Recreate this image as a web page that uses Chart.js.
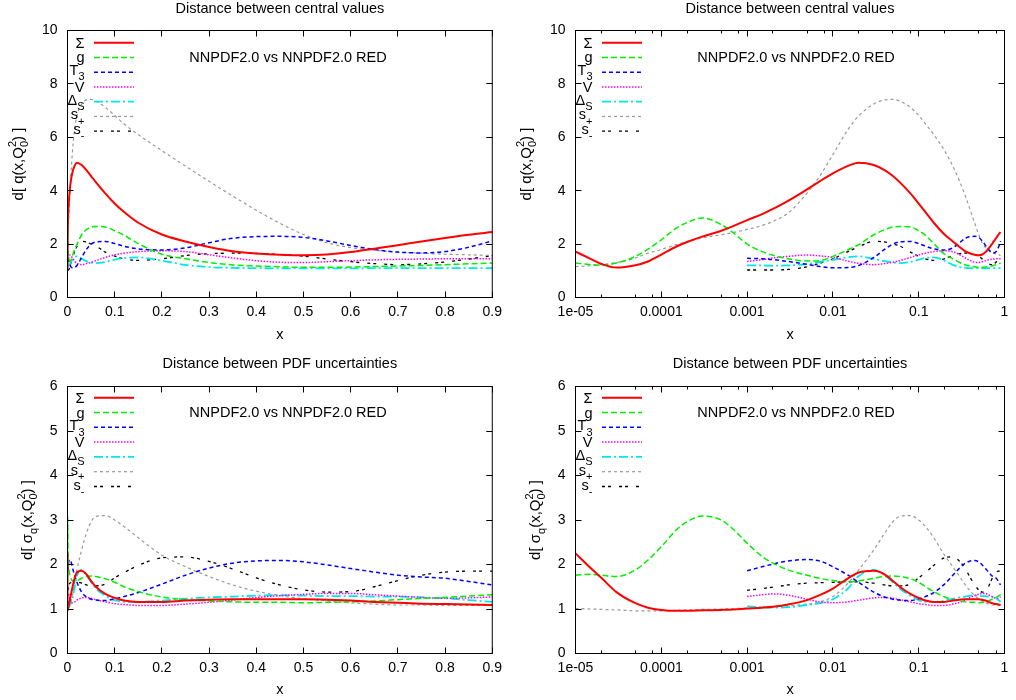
<!DOCTYPE html>
<html><head><meta charset="utf-8">
<script src="https://cdn.jsdelivr.net/npm/chart.js@4.4.1/dist/chart.umd.min.js"></script>
<style>
html,body{margin:0;padding:0;background:#fff;width:1016px;height:700px;overflow:hidden}
.p{position:absolute;width:508px;height:350px}
canvas{display:block}
</style></head><body>
<div class="p" style="left:0;top:0"><canvas id="c0" width="508" height="350"></canvas></div>
<div class="p" style="left:508px;top:0"><canvas id="c1" width="508" height="350"></canvas></div>
<div class="p" style="left:0;top:350px"><canvas id="c2" width="508" height="350"></canvas></div>
<div class="p" style="left:508px;top:350px"><canvas id="c3" width="508" height="350"></canvas></div>
<script>
// ---------- data ----------
const X = [1e-5,1.5e-5,2e-5,3e-5,5e-5,7e-5,1e-4,1.5e-4,2e-4,3e-4,5e-4,7e-4,1e-3,1.5e-3,2e-3,3e-3,5e-3,7e-3,0.01,0.015,0.02,0.03,0.04,0.05,0.06,0.08,0.1,0.12,0.15,0.2,0.25,0.3,0.35,0.4,0.45,0.5,0.55,0.6,0.65,0.7,0.75,0.8,0.85,0.9];
const SERIES = ['Σ','g','T3','V','ΔS','s+','s-'];

// distance between central values
const cvSigma  = [1.72,1.45,1.26,1.12,1.21,1.35,1.61,1.91,2.08,2.28,2.5,2.68,2.9,3.12,3.32,3.62,4.05,4.35,4.65,4.93,5.05,4.96,4.77,4.55,4.32,3.9,3.52,3.2,2.8,2.36,2.1,1.89,1.73,1.65,1.6,1.58,1.61,1.7,1.83,1.96,2.1,2.23,2.35,2.45];
const cvGluon  = [1.29,1.23,1.21,1.29,1.54,1.81,2.16,2.6,2.81,2.98,2.73,2.41,2.0,1.72,1.58,1.45,1.37,1.38,1.54,1.79,1.98,2.35,2.54,2.64,2.66,2.64,2.5,2.33,2.02,1.62,1.45,1.31,1.22,1.18,1.15,1.13,1.13,1.14,1.16,1.18,1.2,1.23,1.26,1.29];
const cvT3     = [1.47,1.45,1.42,1.35,1.24,1.16,1.11,1.12,1.2,1.5,1.8,2.0,2.08,2.1,2.02,1.92,1.82,1.78,1.86,2.05,2.22,2.28,2.29,2.25,2.12,1.95,1.8,1.7,1.67,1.72,1.88,2.12];
const cvV      = [1.35,1.42,1.48,1.54,1.59,1.56,1.5,1.36,1.28,1.23,1.27,1.32,1.38,1.5,1.6,1.66,1.72,1.75,1.72,1.6,1.48,1.38,1.32,1.31,1.34,1.38,1.41,1.43,1.44,1.45,1.45,1.45];
const cvDeltaS = [1.2,1.2,1.19,1.2,1.25,1.33,1.41,1.51,1.54,1.45,1.36,1.31,1.29,1.33,1.42,1.48,1.5,1.38,1.22,1.14,1.11,1.1,1.09,1.09,1.09,1.09,1.1,1.1,1.1,1.1,1.1,1.1];
const cvSplus  = [1.16,1.19,1.23,1.31,1.48,1.66,1.8,1.98,2.09,2.23,2.35,2.44,2.55,2.7,2.85,3.16,3.91,4.54,5.35,6.29,6.8,7.25,7.4,7.42,7.36,7.12,6.82,6.5,6.1,5.5,4.92,4.35,3.8,3.27,2.78,2.36,2.05,1.87,1.77,1.7,1.66,1.62,1.6,1.57];
const cvSminus = [1.03,1.03,1.03,1.05,1.15,1.28,1.45,1.72,1.9,2.1,2.08,2.0,1.93,1.7,1.55,1.45,1.39,1.45,1.57,1.64,1.66,1.65,1.61,1.55,1.44,1.34,1.27,1.23,1.26,1.33,1.44,1.57];

// distance between PDF uncertainties
const unSigma  = [2.25,1.92,1.7,1.38,1.13,1.03,0.98,0.96,0.96,0.97,0.98,0.99,1.01,1.03,1.05,1.1,1.2,1.31,1.46,1.69,1.82,1.86,1.78,1.63,1.5,1.34,1.25,1.19,1.16,1.16,1.19,1.21,1.22,1.22,1.22,1.22,1.21,1.19,1.16,1.14,1.12,1.11,1.1,1.09];
const unGluon  = [1.76,1.78,1.76,1.73,1.88,2.1,2.4,2.78,2.96,3.09,3.0,2.78,2.48,2.18,2.03,1.88,1.76,1.69,1.64,1.61,1.63,1.69,1.73,1.74,1.73,1.68,1.6,1.5,1.39,1.27,1.21,1.18,1.16,1.15,1.15,1.14,1.15,1.16,1.18,1.21,1.24,1.26,1.29,1.32];
const unT3     = [1.86,1.95,2.01,2.08,2.11,2.08,1.95,1.76,1.6,1.38,1.27,1.22,1.2,1.19,1.23,1.28,1.37,1.56,1.76,1.92,2.03,2.08,2.09,2.06,1.99,1.91,1.83,1.76,1.72,1.69,1.62,1.54];
const unV      = [1.28,1.32,1.34,1.31,1.22,1.16,1.14,1.16,1.2,1.25,1.26,1.24,1.21,1.16,1.12,1.1,1.08,1.08,1.11,1.15,1.2,1.26,1.3,1.33,1.35,1.35,1.32,1.29,1.26,1.24,1.25,1.27];
const unDeltaS = [1.06,1.04,1.03,1.04,1.09,1.13,1.22,1.46,1.74,1.88,1.76,1.6,1.46,1.3,1.2,1.16,1.16,1.19,1.23,1.26,1.28,1.3,1.31,1.3,1.29,1.29,1.28,1.28,1.26,1.24,1.2,1.16];
const unSplus  = [1.01,1.0,0.99,0.98,0.96,0.96,0.96,0.97,0.98,0.99,1.0,1.01,1.02,1.04,1.05,1.07,1.11,1.16,1.28,1.58,1.88,2.33,2.7,2.96,3.08,3.1,3.0,2.85,2.6,2.21,1.95,1.73,1.54,1.4,1.3,1.23,1.18,1.14,1.11,1.09,1.09,1.08,1.08,1.08];
const unSminus = [1.42,1.46,1.49,1.54,1.58,1.59,1.6,1.61,1.61,1.58,1.54,1.52,1.52,1.56,1.7,1.82,1.98,2.15,2.17,2.07,1.9,1.7,1.54,1.43,1.38,1.39,1.5,1.64,1.76,1.83,1.85,1.85];

// ticks
const LIN_TICKS = [0,0.1,0.2,0.3,0.4,0.5,0.6,0.7,0.8,0.9];
const LOG_TICKS = [1e-5,1e-4,1e-3,0.01,0.1,1];
const LOG_TICK_LABELS = ['1e-05','0.0001','0.001','0.01','0.1','1'];
const LOG_MINOR = [2,5,8];
const TOP_Y_TICKS = [0,2,4,6,8,10];
const BOT_Y_TICKS = [0,1,2,3,4,5,6];

// ---------- styling ----------
const FONT = '"Liberation Sans", Arial, Helvetica, sans-serif';
const STYLE = [
  {c:'#ff0000', w:2,   d:[]},
  {c:'#00ee00', w:1.5, d:[6,3]},
  {c:'#0000ff', w:1.5, d:[4,3]},
  {c:'#ff00ff', w:1.5, d:[1.5,1.5]},
  {c:'#00e8e8', w:1.8, d:[9,3,2,3]},
  {c:'#999999', w:1.2, d:[3,3]},
  {c:'#000000', w:1.3, d:[3,3,3,8]}
];
const LEGEND_RICH = [
  [{t:'Σ'}], [{t:'g'}], [{t:'T'},{t:'3',s:'sub'}], [{t:'V'}],
  [{t:'Δ'},{t:'S',s:'sub'}], [{t:'s'},{t:'+',s:'sub'}], [{t:'s'},{t:'-',s:'sub'}]
];
const pad = a => Array(X.length - a.length).fill(null).concat(a);

function drawRich(ctx, segs, x, y, align, size, small) {
  const base = size + 'px ' + FONT, sm = small + 'px ' + FONT;
  const items = []; let cx = 0, prevStart = 0;
  for (const s of segs) {
    ctx.font = s.s ? sm : base;
    const w = ctx.measureText(s.t).width;
    const start = s.over ? prevStart : cx;
    items.push({s, start});
    cx = s.over ? Math.max(cx, start + w) : start + w;
    prevStart = start;
  }
  const x0 = align === 'right' ? x - cx : align === 'center' ? x - cx / 2 : x;
  ctx.textAlign = 'left'; ctx.textBaseline = 'alphabetic';
  for (const it of items) {
    ctx.font = it.s.s ? sm : base;
    const dy = it.s.s === 'sub' ? size * 0.36 : it.s.s === 'sup' ? -size * 0.45 : 0;
    ctx.fillText(it.s.t, x0 + it.start, y + dy);
  }
}

const decor = {
  id: 'decor',
  afterDraw(chart) {
    const o = chart.options.plugins.decor;
    const ctx = chart.ctx, a = chart.chartArea;
    const xs = chart.scales.x, ys = chart.scales.y;
    const h = v => Math.round(v - 0.5) + 0.5;
    ctx.save();
    ctx.strokeStyle = '#000'; ctx.lineWidth = 1; ctx.setLineDash([]);
    ctx.strokeRect(a.left, a.top, a.right - a.left, a.bottom - a.top);
    ctx.beginPath();
    xs.ticks.forEach(t => {
      const p = h(xs.getPixelForValue(t.value));
      ctx.moveTo(p, a.bottom); ctx.lineTo(p, a.bottom - 6);
      ctx.moveTo(p, a.top); ctx.lineTo(p, a.top + 6);
    });
    if (o.log) {
      for (let e = -5; e < 0; e++) for (const m of LOG_MINOR) {
        const p = h(xs.getPixelForValue(m * Math.pow(10, e)));
        ctx.moveTo(p, a.bottom); ctx.lineTo(p, a.bottom - 3);
        ctx.moveTo(p, a.top); ctx.lineTo(p, a.top + 3);
      }
    }
    ys.ticks.forEach(t => {
      const p = h(ys.getPixelForValue(t.value));
      ctx.moveTo(a.left, p); ctx.lineTo(a.left + 6, p);
      ctx.moveTo(a.right, p); ctx.lineTo(a.right - 6, p);
    });
    ctx.stroke();

    ctx.fillStyle = '#000';
    const midX = (a.left + a.right) / 2;
    ctx.font = '14.5px ' + FONT; ctx.textAlign = 'center'; ctx.textBaseline = 'middle';
    ctx.fillText(o.title, midX, o.titleY);
    ctx.fillText('NNPDF2.0 vs NNPDF2.0 RED', 288, a.top + o.annY);
    ctx.fillText('x', midX, o.xTitleY);
    ctx.save();
    ctx.translate(o.yTitleX, (a.top + a.bottom) / 2);
    ctx.rotate(-Math.PI / 2);
    drawRich(ctx, o.yTitle, 0, 5, 'center', 15, 11);
    ctx.restore();
    chart.data.datasets.forEach((ds, k) => {
      const y = a.top + o.legTop + k * o.legStep;
      ctx.strokeStyle = ds.borderColor; ctx.lineWidth = ds.borderWidth;
      ctx.setLineDash(ds.borderDash || []);
      ctx.beginPath(); ctx.moveTo(94, y); ctx.lineTo(134, y); ctx.stroke();
      ctx.setLineDash([]);
      const segs = LEGEND_RICH[k];
      const hasSub = segs.some(s => s.s);
      drawRich(ctx, segs, 84.5, y + 5 - (hasSub ? 2 : 0), 'right', 14.5, 11);
    });
    ctx.restore();
  }
};

function makeChart(id, cfg) {
  const xScale = cfg.log ? {
    type: 'logarithmic', min: 1e-5, max: 1,
    afterBuildTicks: s => { s.ticks = LOG_TICKS.map(v => ({value: v})); },
    ticks: {callback: (v, i) => LOG_TICK_LABELS[i], autoSkip: false, maxRotation: 0, padding: 6, color: '#000', font: {family: FONT, size: 14}}
  } : {
    type: 'linear', min: 0, max: 0.9,
    afterBuildTicks: s => { s.ticks = LIN_TICKS.map(v => ({value: v})); },
    ticks: {callback: v => String(+v.toFixed(1)), autoSkip: false, maxRotation: 0, padding: 6, color: '#000', font: {family: FONT, size: 14}}
  };
  Object.assign(xScale, {
    grid: {display: false, drawTicks: false}, border: {display: false},
    afterFit: s => { s.height = 350 - cfg.bottom; }
  });
  return new Chart(document.getElementById(id), {
    type: 'line',
    data: {
      datasets: SERIES.map((name, k) => ({
        label: name,
        data: X.map((x, i) => ({x: x, y: cfg.values[k][i]})),
        borderColor: STYLE[k].c, borderWidth: STYLE[k].w, borderDash: STYLE[k].d,
        pointRadius: 0, fill: false, cubicInterpolationMode: 'monotone', spanGaps: false
      }))
    },
    options: {
      responsive: false, animation: false, devicePixelRatio: 1,
      layout: {padding: {top: cfg.top, right: 11.5, left: 0, bottom: 0}},
      plugins: {
        legend: {display: false}, tooltip: {enabled: false}, title: {display: false},
        decor: cfg.decor
      },
      scales: {
        x: xScale,
        y: {
          type: 'linear', min: 0, max: cfg.ymax,
          afterBuildTicks: s => { s.ticks = cfg.yticks.map(v => ({value: v})); },
          ticks: {padding: 10, color: '#000', font: {family: FONT, size: 14}},
          grid: {display: false, drawTicks: false}, border: {display: false},
          afterFit: s => { s.width = 67.5; }
        }
      }
    },
    plugins: [decor]
  });
}

const yTop = [{t:'d[ q(x,Q'},{t:'0',s:'sub'},{t:'2',s:'sup',over:true},{t:') ]'}];
const yBot = [{t:'d[ σ'},{t:'q',s:'sub'},{t:'(x,Q'},{t:'0',s:'sub'},{t:'2',s:'sup',over:true},{t:') ]'}];

const central = [cvSigma, cvGluon, pad(cvT3), pad(cvV), pad(cvDeltaS), cvSplus, pad(cvSminus)];
const uncert  = [unSigma, unGluon, pad(unT3), pad(unV), pad(unDeltaS), unSplus, pad(unSminus)];

const topDecor = (log) => ({log, title: 'Distance between central values', titleY: 8.5, annY: 27.2, xTitleY: 335, yTitleX: 17.5, yTitle: yTop, legTop: 12.2, legStep: 14.75});
const botDecor = (log) => ({log, title: 'Distance between PDF uncertainties', titleY: 14, annY: 26.8, xTitleY: 340, yTitleX: 26.5, yTitle: yBot, legTop: 11.2, legStep: 14.8});

makeChart('c0', {log: false, values: central, ymax: 10, yticks: TOP_Y_TICKS, top: 30.5, bottom: 297.5, decor: topDecor(false)});
makeChart('c1', {log: true,  values: central, ymax: 10, yticks: TOP_Y_TICKS, top: 30.5, bottom: 297.5, decor: topDecor(true)});
makeChart('c2', {log: false, values: uncert,  ymax: 6,  yticks: BOT_Y_TICKS, top: 36.5, bottom: 303.5, decor: botDecor(false)});
makeChart('c3', {log: true,  values: uncert,  ymax: 6,  yticks: BOT_Y_TICKS, top: 36.5, bottom: 303.5, decor: botDecor(true)});
</script>
</body></html>
